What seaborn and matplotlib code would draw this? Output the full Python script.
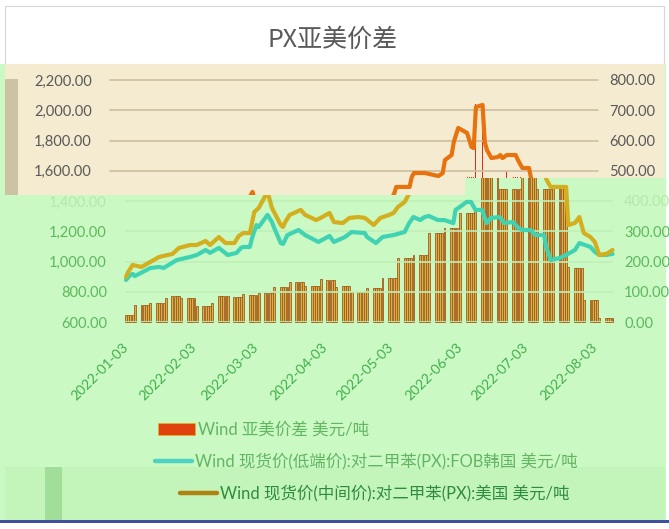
import matplotlib
matplotlib.use("Agg")
import matplotlib.pyplot as plt
import seaborn as sns
import pandas as pd
from matplotlib.patches import Polygon, Rectangle, Patch
from matplotlib.lines import Line2D
from matplotlib.transforms import ScaledTranslation

sns.set_theme(style="white")
plt.rcParams["font.family"] = ["Lato", "Noto Sans CJK SC", "DejaVu Sans"]
plt.rcParams["axes.unicode_minus"] = False

# ---------------- data ----------------
title = "PX亚美价差"
series_names = [
    "Wind 亚美价差 美元/吨",
    "Wind 现货价(低端价):对二甲苯(PX):FOB韩国 美元/吨",
    "Wind 现货价(中间价):对二甲苯(PX):美国 美元/吨",
]
x_tick_labels = ["2022-01-03", "2022-02-03", "2022-03-03", "2022-04-03",
                 "2022-05-03", "2022-06-03", "2022-07-03", "2022-08-03"]
left_ticks = [600, 800, 1000, 1200, 1400, 1600, 1800, 2000, 2200]
right_ticks = [0, 100, 200, 300, 400, 500, 600, 700, 800]

us_dates = ["2022-01-03", "2022-01-04", "2022-01-06", "2022-01-10", "2022-01-14", "2022-01-18",
            "2022-01-24", "2022-01-27", "2022-02-01", "2022-02-04", "2022-02-08", "2022-02-10",
            "2022-02-14", "2022-02-17", "2022-02-21", "2022-02-23", "2022-02-25", "2022-02-28",
            "2022-03-02", "2022-03-04", "2022-03-08", "2022-03-10", "2022-03-14", "2022-03-15",
            "2022-03-16", "2022-03-18", "2022-03-23", "2022-03-25", "2022-03-30", "2022-04-01",
            "2022-04-05", "2022-04-07", "2022-04-11", "2022-04-14", "2022-04-18", "2022-04-21",
            "2022-04-25", "2022-04-28", "2022-05-02", "2022-05-04", "2022-05-06", "2022-05-09",
            "2022-05-11", "2022-05-12", "2022-05-18", "2022-05-19", "2022-05-20", "2022-05-25",
            "2022-05-31", "2022-06-02", "2022-06-03", "2022-06-06", "2022-06-07", "2022-06-08",
            "2022-06-09", "2022-06-13", "2022-06-15", "2022-06-16", "2022-06-17", "2022-06-20",
            "2022-06-21", "2022-06-22", "2022-06-24", "2022-06-27", "2022-06-28", "2022-06-29",
            "2022-07-01", "2022-07-05", "2022-07-06", "2022-07-08", "2022-07-11", "2022-07-12",
            "2022-07-14", "2022-07-18", "2022-07-21", "2022-07-22", "2022-07-25", "2022-07-26",
            "2022-07-27", "2022-07-29", "2022-08-01", "2022-08-03", "2022-08-05", "2022-08-08",
            "2022-08-09", "2022-08-11"]
us_price = [898, 931, 977, 964, 997, 1030,
            1050, 1090, 1109, 1109, 1136, 1109,
            1162, 1122, 1122, 1169, 1188, 1188,
            1327, 1354, 1460, 1354, 1241, 1228,
            1261, 1308, 1341, 1308, 1274, 1288,
            1321, 1261, 1254, 1288, 1294, 1288,
            1241, 1288, 1308, 1321, 1361, 1394,
            1447, 1493, 1493, 1559, 1585, 1585,
            1565, 1585, 1671, 1704, 1790, 1837,
            1883, 1850, 1757, 1750, 2021, 2035,
            1790, 1737, 1684, 1691, 1704, 1684,
            1704, 1704, 1671, 1618, 1618, 1545,
            1493, 1493, 1493, 1241, 1255, 1274,
            1294, 1188, 1162, 1129, 1043, 1050,
            1057, 1076]

kr_dates = ["2022-01-03", "2022-01-05", "2022-01-06", "2022-01-07", "2022-01-14", "2022-01-18",
            "2022-01-20", "2022-01-26", "2022-02-01", "2022-02-04", "2022-02-08", "2022-02-10",
            "2022-02-14", "2022-02-18", "2022-02-22", "2022-02-24", "2022-02-25", "2022-02-28",
            "2022-03-01", "2022-03-03", "2022-03-04", "2022-03-08", "2022-03-10", "2022-03-11",
            "2022-03-14", "2022-03-15", "2022-03-17", "2022-03-22", "2022-03-25", "2022-03-31",
            "2022-04-05", "2022-04-07", "2022-04-12", "2022-04-15", "2022-04-21", "2022-04-22",
            "2022-04-26", "2022-04-29", "2022-05-04", "2022-05-09", "2022-05-11", "2022-05-13",
            "2022-05-16", "2022-05-18", "2022-05-20", "2022-05-24", "2022-05-27", "2022-05-31",
            "2022-06-01", "2022-06-03", "2022-06-06", "2022-06-08", "2022-06-10", "2022-06-13",
            "2022-06-15", "2022-06-17", "2022-06-21", "2022-06-23", "2022-06-27", "2022-06-29",
            "2022-07-01", "2022-07-05", "2022-07-07", "2022-07-11", "2022-07-12", "2022-07-14",
            "2022-07-18", "2022-07-21", "2022-07-25", "2022-07-27", "2022-08-01", "2022-08-03",
            "2022-08-05", "2022-08-08", "2022-08-11"]
kr_price = [878, 911, 918, 904, 957, 964,
            957, 1010, 1030, 1043, 1076, 1057,
            1090, 1043, 1057, 1090, 1096, 1096,
            1156, 1241, 1228, 1308, 1261, 1222,
            1122, 1116, 1175, 1208, 1175, 1129,
            1169, 1129, 1162, 1195, 1188, 1162,
            1122, 1162, 1175, 1195, 1254, 1294,
            1274, 1294, 1301, 1274, 1274, 1254,
            1341, 1361, 1394, 1394, 1341, 1341,
            1254, 1288, 1294, 1254, 1261, 1228,
            1208, 1208, 1175, 1175, 1096, 1010,
            1023, 1043, 1076, 1122, 1096, 1063,
            1043, 1043, 1050]

# spread (right axis), one value per business day 2022-01-03 .. 2022-08-11
spread = [23, 23, 23, 23, 57,   57, 57, 57, 57, 63,   63, 63, 63, 63, 80,
          86, 86, 86, 86, 80,   80, 80, 80, 80, 53,   53, 53, 53, 53, 63,
          86, 86, 86, 86, 86,   83, 83, 83, 83, 93,   90, 90, 90, 90, 96,
          96, 96, 96, 96, 116,  116, 116, 116, 116, 133,  133, 133, 133, 133, 120,
          120, 120, 120, 120, 143,  140, 140, 140, 140, 116,  120, 120, 120, 120, 100,
          100, 100, 100, 100, 113,  113, 113, 113, 113, 146,  146, 146, 146, 146, 212,
          212, 212, 212, 212, 222,  222, 222, 222, 222, 294,  294, 294, 294, 294, 311,
          311, 311, 311, 311, 361,  361, 361, 361, 361, 377,  480, 480, 480, 480, 720,
          720, 440, 440, 440, 440,  440, 440, 440, 440, 500,  480, 480, 480, 480, 440,
          440, 440, 440, 440, 450,  450, 450, 450, 450, 182,  178, 178, 178, 178, 73,
          73, 73, 73, 73, 13,  13, 13, 13, 13]
spread_days = pd.bdate_range("2022-01-03", "2022-08-11")

# ---------------- style ----------------
GREEN_BG = "#cbf9c3"
BEIGE = "#f5ebd0"
BEIGE_STRIP = "#cdc3a4"
GRID_BEIGE = "#cbbf9f"
GRID_GREEN = "#c0efb7"
TEXT_GRAY = "#595959"
TICK_GREEN = "#5db95d"
FAINT = "#b6e7ae"
TEAL = "#3fd3b3"
GOLD = "#d3ae1e"
ORANGE = "#e8720e"
BAR_FILL = "#d6b348"
BAR_EDGE = "#a35a1c"
BAR_RED = "#d9301c"

W, H = 669, 529
fig = plt.figure(figsize=(W / 100, H / 100), dpi=100, facecolor=GREEN_BG)


def fx(x):
    return x / W


def fy(y):
    return 1 - y / H


def add_rect(x0, y0, x1, y1, color, z=-5, edge="none", lw=0):
    r = Rectangle((fx(x0), fy(y1)), fx(x1) - fx(x0), fy(y0) - fy(y1),
                  transform=fig.transFigure, facecolor=color, edgecolor=edge,
                  linewidth=lw, zorder=z)
    fig.add_artist(r)
    return r


def poly(pts):
    return Polygon([(fx(a), fy(b)) for a, b in pts], closed=True,
                   transform=fig.transFigure)


# background bands
add_rect(0, 0, W, 64, "white")
add_rect(5, 6, 664, 64, "white", edge="#d6d6d6", lw=0.8)
beige_pts = [(5, 64), (665, 64), (665, 178), (465, 178), (465, 195), (5, 195)]
bp = poly(beige_pts)
bp.set_facecolor(BEIGE)
bp.set_edgecolor("none")
bp.set_zorder(-5)
fig.add_artist(bp)
add_rect(5, 79, 18, 195, BEIGE_STRIP)
add_rect(5, 467, 665, 520, "#c3f5bb")
add_rect(45, 467, 62, 520, "#a1de9a")
add_rect(666, 0, W, H, "white")
add_rect(0, 520, W, H, "white")
add_rect(0, 520, W, 523, "#40509e")

beige_clip = poly(beige_pts)
green_clip = poly([(0, 195), (465, 195), (465, 178), (W, 178), (W, H), (0, H)])
shift = ScaledTranslation(-15 / 100, 0, fig.dpi_scale_trans)
shift_r = ScaledTranslation(-15 / 100, 0, fig.dpi_scale_trans)

# axes
ax = fig.add_axes([fx(125), fy(322), fx(613) - fx(125), fy(80) - fy(322)])
ax2 = ax.twinx()
ax.set_zorder(ax2.get_zorder() + 1)
ax.patch.set_visible(False)
ax2.patch.set_visible(False)

start = pd.Timestamp("2022-01-03")
ax.set_xlim(start + pd.Timedelta(days=-0.45), start + pd.Timedelta(days=220.2))
ax.set_ylim(600, 2200)
ax2.set_ylim(0, 800)

# bars (spread, right axis)
bars_g = ax2.bar(spread_days, spread, width=0.85, color=BAR_FILL,
                 edgecolor=BAR_EDGE, linewidth=0.6)
for r in bars_g:
    r.set_clip_path(green_clip)
    r.set_clip_box(None)
bars_r = ax2.bar(spread_days, spread, width=0.45, color=BAR_RED, edgecolor="none")
for r in bars_r:
    r.set_transform(ax2.transData + shift)
    r.set_clip_path(beige_clip)
    r.set_clip_box(None)

# lines (left axis)
kr_x = pd.to_datetime(kr_dates)
us_x = pd.to_datetime(us_dates)
sns.lineplot(x=kr_x, y=kr_price, ax=ax, color=TEAL, linewidth=3.0)
ln = ax.lines[-1]
ln.set_solid_joinstyle("round")
ln.set_clip_path(green_clip)
ln.set_clip_box(None)

sns.lineplot(x=us_x, y=us_price, ax=ax, color=GOLD, linewidth=3.0)
ln = ax.lines[-1]
ln.set_solid_joinstyle("round")
ln.set_clip_path(green_clip)
ln.set_clip_box(None)

sns.lineplot(x=us_x, y=us_price, ax=ax, color=ORANGE, linewidth=3.0)
ln = ax.lines[-1]
ln.set_solid_joinstyle("round")
ln.set_transform(ax.transData + shift)
ln.set_clip_path(beige_clip)
ln.set_clip_box(None)

ax.set_xlabel("")
ax.set_ylabel("")
for s in list(ax.spines.values()) + list(ax2.spines.values()):
    s.set_visible(False)

# ticks
ax.tick_params(axis="y", length=0, pad=13, labelsize=10.5)
ax2.tick_params(axis="y", length=0, pad=8, labelsize=10.5)
ax.tick_params(axis="x", length=0, pad=17, labelsize=10)

ax.set_yticks(left_ticks)
ax.set_yticklabels([f"{v:,.2f}" for v in left_ticks])
ax2.set_yticks(right_ticks)
ax2.set_yticklabels([f"{v:,.2f}" for v in right_ticks])
ax.set_xticks(pd.to_datetime(x_tick_labels))
ax.set_xticklabels(x_tick_labels, rotation=45, ha="right", va="center",
                   rotation_mode="anchor", color="#3fae4b")

ax.yaxis.grid(True)
ax.xaxis.grid(False)
ax2.grid(False)
for tick, v in zip(ax.yaxis.get_major_ticks(), left_ticks):
    gl = tick.gridline
    gl.set_linewidth(1.2)
    if v >= 1600:
        gl.set_color(GRID_BEIGE)
        gl.set_transform(gl.get_transform() + shift)
        gl.set_clip_on(False)
    else:
        gl.set_color(GRID_GREEN)

for lbl, v in zip(ax.get_yticklabels(), left_ticks):
    if v >= 1600:
        lbl.set_color(TEXT_GRAY)
        lbl.set_transform(lbl.get_transform() + shift)
    elif v == 1400:
        lbl.set_color(FAINT)
    else:
        lbl.set_color(TICK_GREEN)
for lbl, v in zip(ax2.get_yticklabels(), right_ticks):
    if v >= 500:
        lbl.set_color(TEXT_GRAY)
        lbl.set_transform(lbl.get_transform() + shift_r)
    elif v == 400:
        lbl.set_color(FAINT)
    else:
        lbl.set_color(TICK_GREEN)

# title
fig.text(fx(333), fy(40), title, ha="center", va="center", fontsize=18,
         color=TEXT_GRAY, family=["Noto Sans CJK SC", "DejaVu Sans"])

# legends
fs = 11.9
fpx = fs * 100 / 72
handles = [
    Patch(facecolor="#e0420e", edgecolor="#e8b020", linewidth=0.5),
    Line2D([], [], color="#4ed2c2", linewidth=3.2),
    Line2D([], [], color="#b08212", linewidth=3.2),
]
anchors = [(158, 430), (155, 461), (180, 493)]
text_colors = ["#62b562", "#62b562", "#2f8c3c"]
for h, name, (px, py), tc in zip(handles, series_names, anchors, text_colors):
    leg = fig.legend(handles=[h], labels=[name], loc="center left",
                     bbox_to_anchor=(fx(px), fy(py)), frameon=False, fontsize=fs,
                     handlelength=37 / fpx, handletextpad=3 / fpx,
                     borderpad=0, borderaxespad=0)
    for t in leg.get_texts():
        t.set_color(tc)

fig.savefig("out.png", dpi=100, facecolor=fig.get_facecolor())
